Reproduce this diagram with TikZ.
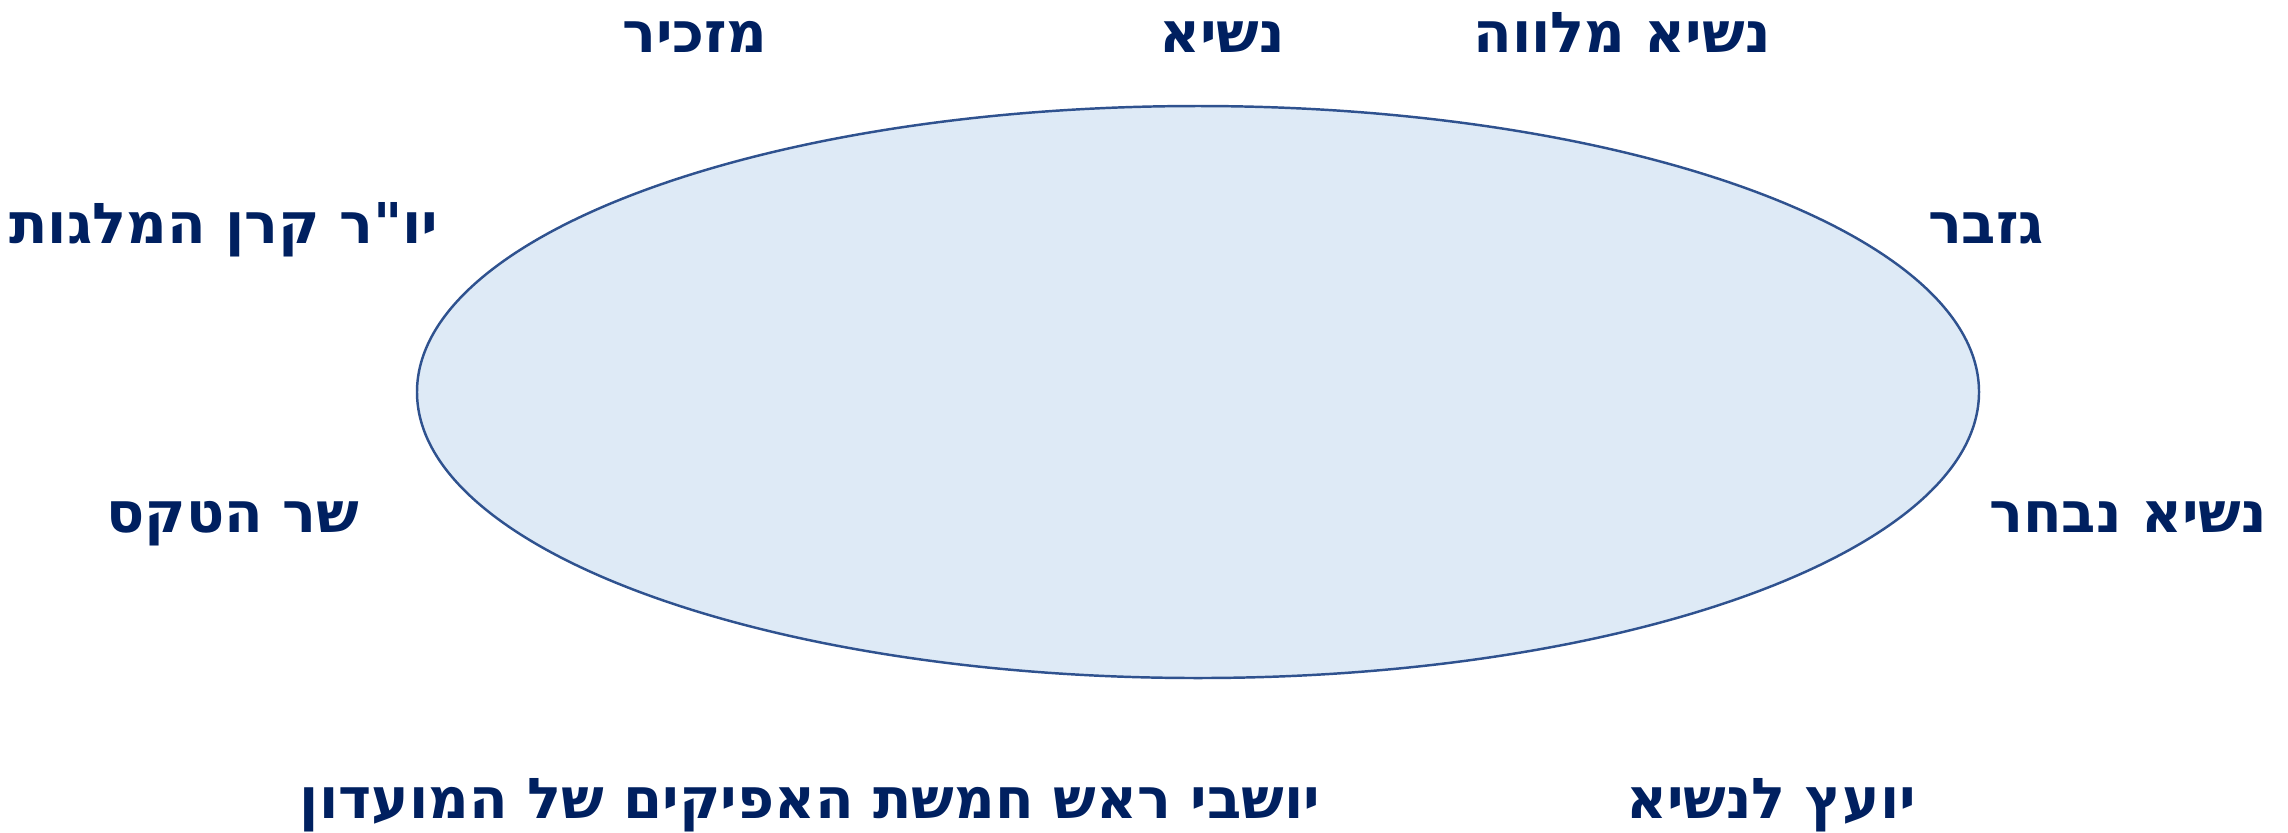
\documentclass[tikz,border=0pt]{standalone}
\usepackage{fontspec}
\newfontfamily\hebfont[Script=Hebrew]{DejaVu Sans}
\TeXXeTstate=1
\usepackage{tikz}
\usetikzlibrary{positioning}

\definecolor{navy}{HTML}{002060}
\definecolor{ringfill}{HTML}{DEEAF6}
\definecolor{ringline}{HTML}{2F528F}

\begin{document}
\begin{tikzpicture}[x=0.01cm,y=-0.01cm,
    role/.style={anchor=base,inner sep=0pt,text=navy,
      font=\hebfont\bfseries\fontsize{16}{19}\selectfont}]
    \useasboundingbox (0,0) rectangle (2288,832);
    \draw[ringline,fill=ringfill,line width=0.7pt] (1198,392) ellipse [x radius=781,y radius=286];
    \node[role] (secretary) at (695,52) {\beginR מזכיר\endR};
    \node[role] (president) at (1222,52) {\beginR נשיא\endR};
    \node[role] (escort) at (1622,52) {\beginR נשיא מלווה\endR};
    \node[role] (fund) at (224,243) {\beginR יו"ר קרן המלגות\endR};
    \node[role] (treasurer) at (1986,243) {\beginR גזבר\endR};
    \node[role] (ceremony) at (233,532) {\beginR שר הטקס\endR};
    \node[role] (elect) at (2128,532) {\beginR נשיא נבחר\endR};
    \node[role] (avenues) at (810,818) {\beginR יושבי ראש חמשת האפיקים של המועדון\endR};
    \node[role] (advisor) at (1771,818) {\beginR יועץ לנשיא\endR};
\end{tikzpicture}
\end{document}
